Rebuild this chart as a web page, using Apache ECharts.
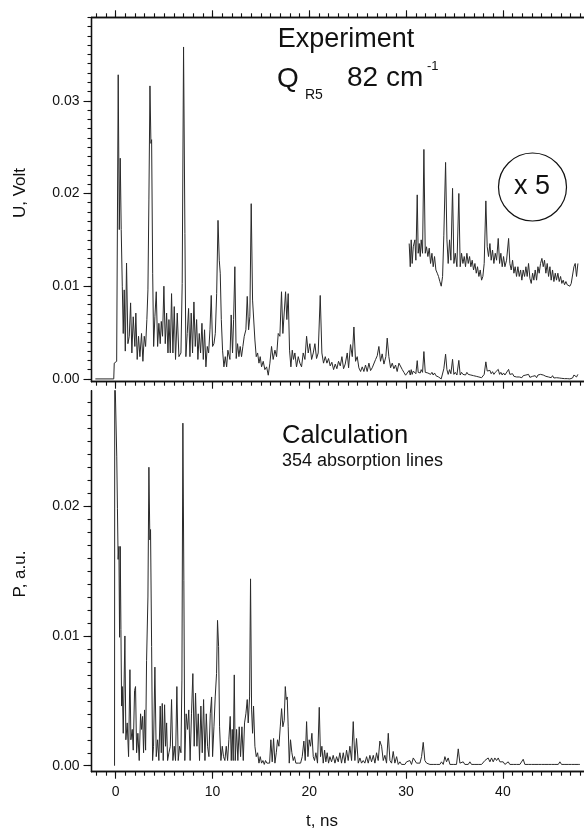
<!DOCTYPE html>
<html><head><meta charset="utf-8">
<script src="https://cdn.jsdelivr.net/npm/echarts@6/dist/echarts.min.js"></script>
<style>html,body{margin:0;padding:0;background:#fff}#c{width:584px;height:830px}</style>
</head><body><div id="c"></div>
<script>
// ---------- DATA ----------
// Experiment trace: time (ns) and signal U (Volt)
const tExp = [
-2.1,-0.2,-0.15,0.1,0.26,0.37,0.47,0.57,0.68,0.78,
0.88,0.99,1.12,1.26,1.40,1.54,1.67,1.81,1.98,2.08,
2.22,2.36,2.50,2.67,2.81,2.95,3.09,3.22,3.33,3.43,
3.54,3.64,3.71,3.82,3.92,4.05,4.19,4.33,4.46,4.60,
4.71,4.84,4.98,5.12,5.26,5.40,5.50,5.64,5.77,5.91,
6.05,6.18,6.36,6.53,6.74,6.87,7.01,7.15,7.25,7.39,
7.53,7.67,7.80,7.94,8.08,8.22,8.36,8.49,8.63,8.77,
8.91,9.05,9.18,9.32,9.46,9.60,9.74,9.87,10.01,10.15,
10.29,10.43,10.57,10.70,10.80,10.91,11.04,11.18,11.32,11.46,
11.59,11.80,11.93,12.07,12.18,12.31,12.45,12.59,12.73,12.86,
13.00,13.14,13.28,13.45,13.59,13.73,13.86,14.00,14.14,14.28,
14.38,14.52,14.66,14.80,14.93,15.07,15.24,15.41,15.59,15.76,
15.93,16.10,16.27,16.45,16.62,16.79,16.96,17.13,17.27,17.41,
17.55,17.68,17.82,17.96,18.10,18.24,18.37,18.51,18.68,18.86,
19.03,19.20,19.37,19.55,19.72,19.89,20.06,20.24,20.41,20.58,
20.75,20.92,21.13,21.30,21.47,21.65,21.82,21.99,22.16,22.33,
22.51,22.68,22.85,23.02,23.20,23.37,23.54,23.71,23.92,24.06,
24.26,24.44,24.61,24.78,24.95,25.12,25.30,25.47,25.64,25.81,
25.98,26.16,26.33,26.50,26.67,26.85,27.02,27.19,27.36,27.53,
27.71,27.91,28.05,28.22,28.40,28.57,28.74,28.91,29.08,29.26,
29.43,29.61,29.78,29.95,30.12,30.32,30.43,30.53,30.63,30.74,
30.91,31.01,31.15,31.25,31.36,31.46,31.56,31.70,31.84,31.98,
32.11,32.25,32.39,32.53,32.67,32.80,32.94,33.08,33.22,33.35,
33.49,33.63,33.77,33.90,34.08,34.22,34.35,34.49,34.63,34.80,
34.94,35.08,35.25,35.45,35.59,35.73,35.87,36.01,36.14,36.28,
36.42,36.56,36.69,36.83,36.97,37.11,37.25,37.38,37.52,37.66,
37.80,37.93,38.07,38.24,38.38,38.52,38.66,38.79,38.93,39.07,
39.21,39.35,39.52,39.66,39.79,39.93,40.07,40.21,40.38,40.59,
40.72,40.86,41.00,41.14,41.27,41.41,41.55,41.69,41.83,41.96,
42.10,42.24,42.38,42.51,42.65,42.79,42.93,43.07,43.20,43.34,
43.48,43.62,43.75,43.89,44.03,44.17,44.30,44.44,44.58,44.72,
44.86,44.99,45.13,45.27,45.41,45.54,45.68,45.82,45.96,46.09,
46.23,46.37,46.51,46.65,46.78,46.92,47.06,47.20,47.34,47.47,
47.61,47.75
];
const uExp = [
0,0,0.0017,0.0019,0.0328,0.0161,0.0238,0.0161,0.0100,0.0049,
0.0096,0.0030,0.0125,0.0038,0.0046,0.0082,0.0028,0.0067,0.0035,0.0071,
0.0021,0.0046,0.0024,0.0049,0.0019,0.0046,0.0035,0.0064,0.0096,0.0193,
0.0316,0.0254,0.0258,0.0114,0.0035,0.0067,0.0094,0.0035,0.0060,0.0038,
0.0062,0.0046,0.0100,0.0038,0.0071,0.0028,0.0064,0.0028,0.0092,0.0028,
0.0078,0.0021,0.0071,0.0024,0.0028,0.0103,0.0358,0.0157,0.0024,0.0049,
0.0076,0.0024,0.0071,0.0028,0.0083,0.0035,0.0064,0.0021,0.0049,0.0028,
0.0060,0.0021,0.0053,0.0013,0.0035,0.0028,0.0053,0.0090,0.0035,0.0038,
0.0049,0.0092,0.0171,0.0128,0.0114,0.0064,0.0031,0.0013,0.0024,0.0013,
0.0031,0.0021,0.0069,0.0028,0.0064,0.0121,0.0022,0.0038,0.0024,0.0035,
0.0024,0.0035,0.0046,0.0053,0.0089,0.0053,0.0067,0.0189,0.0085,0.0087,
0.0042,0.0024,0.0028,0.0017,0.0024,0.0013,0.0019,0.0010,0.0013,0.0004,
0.0017,0.0035,0.0021,0.0031,0.0024,0.0049,0.0046,0.0094,0.0049,0.0049,
0.0094,0.0064,0.0092,0.0031,0.0013,0.0031,0.0021,0.0028,0.0013,0.0024,
0.0017,0.0013,0.0028,0.0021,0.0046,0.0028,0.0038,0.0021,0.0028,0.0038,
0.0022,0.0028,0.0090,0.0028,0.0017,0.0024,0.0017,0.0022,0.0014,0.0018,
0.0010,0.0016,0.0011,0.0019,0.0014,0.0024,0.0011,0.0016,0.0028,0.0012,
0.0037,0.0024,0.0056,0.0019,0.0024,0.0012,0.0008,0.0013,0.0008,0.0015,
0.0008,0.0017,0.0009,0.0012,0.0014,0.0021,0.0025,0.0035,0.0019,0.0027,
0.0016,0.0024,0.0044,0.0024,0.0012,0.0017,0.0011,0.0015,0.0008,0.0017,
0.0015,0.0010,0.0007,0.0004,0.0006,0.00092,0.00042,0.00100,0.00049,0.00085,
0.00100,0.00056,0.00197,0.00071,0.00092,0.00064,0.00100,0.00071,0.00295,0.00071,
0.00085,0.00064,0.00082,0.00049,0.00071,0.00042,0.00064,0.00035,0.00028,0.00021,
0.00010,0.00000,0.00021,0.00110,0.00267,0.00100,0.00049,0.00100,0.00056,0.00211,
0.00049,0.00071,0.00042,0.00200,0.00042,0.00071,0.00049,0.00064,0.00042,0.00071,
0.00049,0.00064,0.00042,0.00056,0.00035,0.00049,0.00028,0.00042,0.00021,0.00035,
0.00013,0.00021,0.00049,0.00184,0.00085,0.00064,0.00092,0.00056,0.00078,0.00049,
0.00071,0.00056,0.00103,0.00049,0.00071,0.00042,0.00064,0.00042,0.00056,0.00103,
0.00049,0.00035,0.00056,0.00028,0.00042,0.00021,0.00042,0.00021,0.00035,0.00013,
0.00035,0.00021,0.00042,0.00021,0.00049,0.00017,0.00006,0.00028,0.00013,0.00035,
0.00013,0.00042,0.00028,0.00049,0.00060,0.00042,0.00056,0.00028,0.00049,0.00021,
0.00042,0.00013,0.00035,0.00010,0.00028,0.00013,0.00028,0.00010,0.00021,0.00006,
0.00013,0.00003,0.00010,0.00003,0.00006,0.00000,0.00006,0.00010,0.00042,0.00049,
0.00021,0.00049
];
// Calculation trace: time (ns) and P (a.u.)
const tCalc = [
-0.12,-0.10,0.06,0.11,0.18,0.25,0.33,0.40,0.47,0.54,
0.61,0.68,0.78,0.95,1.05,1.19,1.33,1.47,1.57,1.71,
1.81,1.95,2.05,2.16,2.29,2.43,2.57,2.67,2.78,2.88,
2.98,3.09,3.19,3.33,3.43,3.53,3.60,3.71,3.81,3.91,
4.05,4.19,4.33,4.46,4.60,4.71,4.81,4.91,5.05,5.15,
5.26,5.36,5.50,5.64,5.77,5.91,6.05,6.18,6.32,6.46,
6.60,6.74,6.84,6.94,7.04,7.14,7.28,7.42,7.55,7.69,
7.83,7.97,8.11,8.25,8.39,8.53,8.66,8.80,8.94,9.08,
9.22,9.36,9.49,9.63,9.77,9.91,10.01,10.15,10.28,10.42,
10.52,10.63,10.73,10.87,11.01,11.14,11.28,11.42,11.56,11.69,
11.83,11.94,12.04,12.14,12.25,12.35,12.49,12.62,12.76,12.90,
13.04,13.18,13.31,13.45,13.59,13.69,13.83,13.93,14.04,14.14,
14.24,14.38,14.52,14.66,14.80,14.93,15.07,15.21,15.35,15.48,
15.62,15.76,15.90,16.03,16.17,16.31,16.45,16.59,16.72,16.86,
17.00,17.14,17.27,17.41,17.52,17.62,17.72,17.82,17.93,18.06,
18.20,18.34,18.47,18.61,18.75,18.89,19.10,19.27,19.44,19.58,
19.72,19.86,19.99,20.13,20.27,20.41,20.54,20.68,20.85,21.03,
21.16,21.30,21.44,21.58,21.71,21.85,21.99,22.13,22.30,22.47,
22.65,22.82,22.99,23.16,23.33,23.51,23.68,23.85,24.02,24.19,
24.37,24.54,24.71,24.88,25.06,25.23,25.40,25.57,25.74,25.92,
26.09,26.26,26.43,26.61,26.78,26.95,27.12,27.29,27.47,27.64,
27.81,27.98,28.16,28.33,28.50,28.67,28.84,29.02,29.19,29.36,
29.53,29.70,29.88,30.05,30.22,30.39,30.56,30.74,30.91,31.08,
31.25,31.43,31.60,31.77,31.94,32.12,32.29,32.46,32.63,32.80,
32.98,33.15,33.32,33.49,33.66,33.84,34.01,34.18,34.35,34.53,
34.70,34.87,35.04,35.21,35.39,35.56,35.73,35.90,36.07,36.25,
36.42,36.59,36.76,36.94,37.11,37.28,37.45,37.62,37.80,37.97,
38.14,38.31,38.48,38.66,38.83,39.00,39.17,39.35,39.52,39.69,
39.86,40.03,40.21,40.38,40.55,40.72,40.90,41.07,41.24,41.41,
41.58,41.76,41.93,42.10,42.27,42.44,42.62,42.79,42.96,43.13,
43.31,43.48,43.65,43.82,43.99,44.17,44.34,44.51,44.68,44.86,
45.03,45.20,45.37,45.54,45.72,45.89,46.06,46.23,46.41,46.58,
46.75,46.92,47.09,47.27,47.44,47.61,47.78,47.95
];
const pCalc = [
0,0.031,0.031,0.0238,0.0198,0.0159,0.0169,0.0099,0.0169,0.0105,
0.0046,0.0061,0.0025,0.0100,0.0020,0.0033,0.0007,0.0074,0.0020,0.0028,
0.0012,0.0058,0.0061,0.0010,0.0025,0.0004,0.0040,0.0028,0.0038,0.0010,
0.0043,0.0012,0.0081,0.0130,0.0230,0.0174,0.0182,0.0092,0.0004,0.0015,
0.0076,0.0007,0.0020,0.0004,0.0046,0.0010,0.0048,0.0004,0.0047,0.0015,
0.0033,0.0004,0.0010,0.0015,0.0051,0.0004,0.0015,0.0004,0.0061,0.0004,
0.0015,0.0010,0.0066,0.0264,0.0143,0.0004,0.0040,0.0028,0.0043,0.0004,
0.0040,0.0071,0.0015,0.0056,0.0015,0.0040,0.0004,0.0046,0.0010,0.0051,
0.0004,0.0040,0.0015,0.0007,0.0040,0.0053,0.0007,0.0030,0.0053,0.0071,
0.0112,0.0092,0.0030,0.0004,0.0015,0.0007,0.0004,0.0015,0.0004,0.0020,
0.0038,0.0004,0.0028,0.0004,0.0070,0.0004,0.0028,0.0004,0.0030,0.0007,
0.0030,0.0004,0.0033,0.0040,0.0051,0.0033,0.0053,0.0144,0.0043,0.0025,
0.0046,0.0015,0.0007,0.0010,0.0002,0.0007,0.0002,0.0004,0.0001,0.0004,
0.0002,0.0003,0.0002,0.0020,0.0003,0.0021,0.0002,0.0010,0.0020,0.0015,
0.0030,0.0044,0.0030,0.0035,0.0061,0.0051,0.0053,0.0030,0.0002,0.0020,
0.0010,0.0004,0.0007,0.0002,0.0003,0.0002,0.0002,0.0007,0.0019,0.0004,
0.0034,0.0007,0.0020,0.0015,0.0025,0.0007,0.0004,0.0010,0.0002,0.0045,
0.0007,0.0015,0.0002,0.0012,0.0003,0.0010,0.0002,0.0007,0.0003,0.0008,
0.0002,0.0007,0.0003,0.0010,0.0002,0.0010,0.0002,0.0012,0.0004,0.0015,
0.0004,0.0034,0.0004,0.0021,0.0002,0.0006,0.0002,0.0004,0.0002,0.0007,
0.0002,0.0008,0.0003,0.0008,0.0002,0.0010,0.0004,0.0019,0.0015,0.0004,
0.0008,0.0002,0.0025,0.0004,0.0002,0.0011,0.0002,0.0007,0.0001,0.0003,
0.0001,0.0002,0.0001,0.0003,0.0002,0.0004,0.0001,0.0006,0.0007,0.0002,
0.0003,0.0002,0.0007,0.0018,0.0004,0.0002,0.0003,0.0001,0.0002,0.0001,
0.0002,0.0001,0.0002,0.0001,0.0003,0.0001,0.0007,0.0003,0.0006,0.0001,
0.0002,0.0001,0.0002,0.0001,0.0013,0.0002,0.0001,0.0003,0.0001,0.0002,
0.0001,0.0003,0.0001,0.0002,0.0001,0.0001,0.0001,0.0002,0.0001,0.0002,
0.0004,0.0003,0.0006,0.0003,0.0006,0.0003,0.0006,0.0004,0.0006,0.0003,
0.0002,0.0003,0.0001,0.0002,0.0003,0.0001,0.0002,0.0001,0.0002,0.0001,
0.0001,0.0001,0.0002,0.0005,0.0001,0.0002,0.0001,0.0002,0.0001,0.0002,
0.0001,0.0002,0.0001,0.0002,0.0001,0.0002,0.0001,0.0002,0.0001,0.0001,
0.0001,0.0002,0.0001,0.0002,0.0001,0.0003,0.0001,0.0002,0.0001,0.0001,
0.0001,0.0001,0.0001,0.0002,0.0001,0.0001,0.0001,0.0001
];
// Tick labels
const xMajorTicks = [0, 10, 20, 30, 40];
const uMajorTicks = [0, 0.01, 0.02, 0.03];
const pMajorTicks = [0, 0.01, 0.02];
// "x 5" magnified part of the experiment trace
const MAG_FACTOR = 5, MAG_OFFSET = 0.01, MAG_START = 30.3;

// ---------- CHART ----------
if (tExp.length !== uExp.length) console.warn('exp length mismatch', tExp.length, uExp.length);
if (tCalc.length !== pCalc.length) console.warn('calc length mismatch', tCalc.length, pCalc.length);

const FONT = '"Liberation Sans", Arial, Helvetica, sans-serif';
const INK = '#111';
const X_MIN = -2.5, X_MAX = 48.38;
const U_MIN = -0.0003, U_MAX = 0.039;
const P_MIN = -0.00046, P_MAX = 0.0289;

const xMinor = []; for (let v = -2; v <= 48; v++) xMinor.push(v);
const uMinor = []; for (let i = 0; i <= 39; i++) uMinor.push(+(i * 0.001).toFixed(3));
const pMinor = []; for (let i = 0; i <= 28; i++) pMinor.push(+(i * 0.001).toFixed(3));

function xAx(grid, pos, ticks, len, labels) {
  return {
    type: 'value', gridIndex: grid, position: pos, min: X_MIN, max: X_MAX,
    axisLine: { show: true, onZero: false, lineStyle: { color: INK, width: 1.3 } },
    axisTick: { show: true, inside: false, length: len, customValues: ticks, lineStyle: { color: INK, width: 1.1 } },
    axisLabel: labels ? { show: true, customValues: ticks, margin: 13, color: INK, fontSize: 14, fontFamily: FONT,
                          formatter: v => String(Math.round(v)) } : { show: false },
    splitLine: { show: false }, minorTick: { show: false }, minorSplitLine: { show: false }
  };
}
function yAx(grid, ticks, len, labels, mn, mx) {
  return {
    type: 'value', gridIndex: grid, position: 'left', min: mn, max: mx,
    axisLine: { show: true, onZero: false, lineStyle: { color: INK, width: 1.3 } },
    axisTick: { show: true, inside: false, length: len, customValues: ticks, lineStyle: { color: INK, width: 1.1 } },
    axisLabel: labels ? { show: true, customValues: ticks, margin: 12, color: INK, fontSize: 14, fontFamily: FONT,
                          formatter: v => v.toFixed(2) } : { show: false },
    splitLine: { show: false }, minorTick: { show: false }, minorSplitLine: { show: false }
  };
}

const expData = tExp.map((t, i) => [t, uExp[i]]);
const magData = tExp.map((t, i) => [t, uExp[i]]).filter(d => d[0] >= MAG_START)
                    .map(d => [d[0], d[1] * MAG_FACTOR + MAG_OFFSET]);
const calcData = tCalc.map((t, i) => [t, pCalc[i]]);

const lineStyle = { color: '#2a2a2a', width: 1 };
function lineSeries(data, xi, yi) {
  return { type: 'line', data, xAxisIndex: xi, yAxisIndex: yi, showSymbol: false, symbol: 'none',
           lineStyle, silent: true, clip: true, animation: false };
}

function txt(x, y, text, size, align, extra) {
  return Object.assign({
    type: 'text', x, y, silent: true,
    style: { text, font: size + 'px ' + FONT, fill: INK, align: align, textAlign: align,
             verticalAlign: 'middle', textVerticalAlign: 'middle' }
  }, extra || {});
}

const option = {
  animation: false,
  backgroundColor: '#fff',
  grid: [
    { left: 91.5, top: 17.3, width: 492.5, height: 364.4 },
    { left: 91.5, top: 390.7, width: 492.5, height: 381 }
  ],
  xAxis: [
    xAx(0, 'bottom', xMajorTicks, 7, false),
    xAx(0, 'bottom', xMinor, 4, false),
    xAx(0, 'top', xMajorTicks, 7, false),
    xAx(0, 'top', xMinor, 4, false),
    xAx(1, 'bottom', xMajorTicks, 7, true),
    xAx(1, 'bottom', xMinor, 4, false)
  ],
  yAxis: [
    yAx(0, uMajorTicks, 8, true, U_MIN, U_MAX),
    yAx(0, uMinor, 4, false, U_MIN, U_MAX),
    yAx(1, pMajorTicks, 8, true, P_MIN, P_MAX),
    yAx(1, pMinor, 4, false, P_MIN, P_MAX)
  ],
  series: [
    lineSeries(expData, 0, 0),
    lineSeries(magData, 0, 0),
    lineSeries(calcData, 4, 2)
  ],
  graphic: [
    txt(346, 40, 'Experiment', 27, 'center'),
    txt(277, 79, 'Q', 28, 'left'),
    txt(305, 95, 'R5', 14, 'left'),
    txt(347, 78, '82 cm', 28, 'left'),
    txt(427, 66, '-1', 13, 'left'),
    { type: 'circle', silent: true, shape: { cx: 532.5, cy: 187, r: 34 },
      style: { fill: 'none', stroke: INK, lineWidth: 1.2 } },
    txt(532, 187, 'x 5', 27, 'center'),
    txt(282, 436, 'Calculation', 25.5, 'left'),
    txt(282, 461, '354 absorption lines', 18, 'left'),
    txt(20, 193, 'U, Volt', 17, 'center', { rotation: Math.PI / 2 }),
    txt(20, 574, 'P, a.u.', 17, 'center', { rotation: Math.PI / 2 }),
    txt(322, 821, 't, ns', 17, 'center')
  ]
};

const chart = echarts.init(document.getElementById('c'), null, { renderer: 'canvas', width: 584, height: 830 });
chart.setOption(option);
</script>
</body></html>
